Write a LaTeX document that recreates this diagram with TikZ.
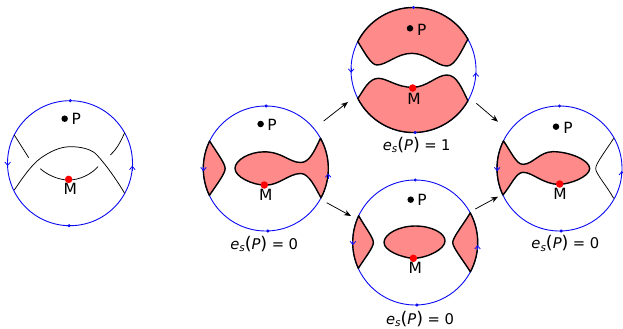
\documentclass[tikz,border=0pt]{standalone}
\usepackage{fontspec}
\setmainfont{DejaVu Sans}
\usetikzlibrary{arrows.meta}
\definecolor{salmon}{RGB}{255,138,138}
\definecolor{diskblue}{RGB}{10,10,245}
\newcommand{\capt}[1]{{\itshape e}\raisebox{-2.5bp}{\fontsize{10.5}{10.5}\selectfont\itshape s}{\fontsize{17.5}{17.5}\selectfont(}{\itshape P}{\fontsize{17.5}{17.5}\selectfont)}\hspace{4.5bp}=\hspace{4.5bp}#1}
\newcommand{\diskmarks}[5]{%
  % #1 name prefix, #2 top x, #3 bottom x, #4 left-arrow y, #5 right-arrow y
  \fill[diskblue] (#2,187.5) circle[radius=1.7bp];
  \fill[diskblue] (#3,-187.5) circle[radius=1.7bp];
  \draw[circarrow] (-187,#4+6) -- (-187,#4-8);
  \draw[circarrow] (187,#5-8) -- (187,#5+7);
}
\tikzset{
  disk/.style={circle,draw=diskblue,line width=0.9bp,minimum size=125bp,inner sep=0pt},
  circarrow/.style={draw=diskblue,line width=0.8bp,-{Straight Barb[length=3.2bp,width=5.6bp]}},
  region/.style={fill=salmon,draw=black,line width=1.4bp,line join=round},
  thinline/.style={draw=black,line width=0.75bp},
  pdot/.style={circle,fill=black,inner sep=0pt,minimum size=6.5bp},
  mdot/.style={circle,fill=red,inner sep=0pt,minimum size=7.5bp},
  lab/.style={inner sep=0pt,font=\fontsize{15.5}{15.5}\selectfont},
  capn/.style={inner sep=0pt,font=\fontsize{14.8}{14.8}\selectfont},
  flow/.style={draw=black,line width=0.75bp,-{Stealth[length=7bp,width=5.5bp]}},
  local/.style={x=0.33333bp,y=0.33333bp}
}
\begin{document}
\begin{tikzpicture}[x=1bp,y=1bp]
\useasboundingbox (0,0) rectangle (623,328);
\node[disk] (c1) at (70,164.8) {};
\node[disk] (c2) at (265.8,159.5) {};
\node[disk] (c3) at (413.5,258) {};
\node[disk] (c4) at (415.2,85.5) {};
\node[disk] (c5) at (559.5,159.5) {};

% disk 1
\begin{scope}[shift={(c1)},local]
\diskmarks{a}{1}{-3}{0}{-15}
\draw[thinline] (-167,84.5) .. controls (-150,58) and (-137,37) .. (-124,16.5);
\draw[thinline] (164,91.5) .. controls (150,60) and (138,40) .. (121,24.5);
\draw[thinline] (-167,-80.5) .. controls (-140,-40) and (-115,-5) .. (-89,14.5) .. controls (-60,35) and (-30,49.5) .. (1,49.5) .. controls (35,49.5) and (60,42) .. (76,29.5) .. controls (105,0) and (140,-50) .. (164,-90.5);
\draw[thinline] (-89,-16.5) .. controls (-65,-38) and (-30,-50.5) .. (-4,-50.5) .. controls (30,-50.5) and (65,-32) .. (84,-10.5);
\node[pdot] (p1) at (-16,133.5) {};
\node[lab] (pl1) at (19,131.5) {P};
\node[mdot] (m1) at (-4,-48.5) {};
\node[lab] (ml1) at (1,-78.5) {M};
\end{scope}

% disk 2
\begin{scope}[shift={(c2)},local]
\path[region] (154:187.5) arc[start angle=154,end angle=205.5,radius=62.5bp] .. controls (-145,-45) and (-122,-15) .. (-122,0) .. controls (-122,15) and (-145,45) .. (154:187.5) -- cycle;
\path[region] (-92.5,0) .. controls (-92.5,25) and (-50,50) .. (-5,50) .. controls (50,50) and (70,18) .. (105,18) .. controls (130,18) and (145,50) .. (29:187.5) arc[start angle=29,end angle=-28,radius=62.5bp] .. controls (150,-60) and (130,-15) .. (105,-15) .. controls (70,-15) and (40,-50) .. (0,-50) .. controls (-40,-50) and (-92.5,-25) .. cycle;
\diskmarks{b}{1}{6}{0}{-22}
\node[pdot] (p2) at (-15.5,133.5) {};
\node[lab] (pl2) at (19,130) {P};
\node[mdot] (m2) at (-4.5,-49.5) {};
\node[lab] (ml2) at (0,-78) {M};
\node[capn] (e2) at (-5,-226) {\capt{0}};
\end{scope}

% disk 3
\begin{scope}[shift={(c3)},local]
\path[region] (153:187.5) arc[start angle=153,end angle=29.5,radius=62.5bp] .. controls (145,60) and (125,12) .. (100,12) .. controls (70,12) and (40,50) .. (-5,50) .. controls (-50,50) and (-80,15) .. (-110,15) .. controls (-128,15) and (-150,58) .. (153:187.5) -- cycle;
\path[region] (207:187.5) .. controls (-150,-62) and (-135,-25) .. (-105,-25) .. controls (-80,-25) and (-50,-52) .. (-3,-52) .. controls (40,-52) and (70,-15) .. (100,-15) .. controls (130,-15) and (145,-55) .. (-29.5:187.5) arc[start angle=-29.5,end angle=-153,radius=62.5bp] -- cycle;
\diskmarks{c}{0}{5}{0}{-15}
\node[pdot] (p3) at (-10.5,125) {};
\node[lab] (pl3) at (25,120) {P};
\node[mdot] (m3) at (-2.5,-54) {};
\node[lab] (ml3) at (1.5,-87) {M};
\node[capn] (e3) at (9.5,-225) {\capt{1}};
\end{scope}

% disk 4
\begin{scope}[shift={(c4)},local]
\path[region] (154.7:187.5) arc[start angle=154.7,end angle=204.4,radius=62.5bp] .. controls (-150,-45) and (-125.5,-15) .. (-125.5,0) .. controls (-125.5,15) and (-150,45) .. (154.7:187.5) -- cycle;
\path[region] (28.3:187.5) arc[start angle=28.3,end angle=-28,radius=62.5bp] .. controls (145,-55) and (112.5,-15) .. (112.5,0) .. controls (112.5,15) and (145,55) .. (28.3:187.5) -- cycle;
\path[region] (-93.5,0) .. controls (-93.5,25) and (-50,49.5) .. (0,49.5) .. controls (50,49.5) and (89.5,28) .. (89.5,5) .. controls (89.5,-18) and (45,-44) .. (-5,-48) .. controls (-45,-44) and (-93.5,-24) .. cycle;
\diskmarks{d}{0}{5}{0}{-15}
\node[pdot] (p4) at (-13.5,128.5) {};
\node[lab] (pl4) at (20.5,127) {P};
\node[mdot] (m4) at (-5.5,-47.5) {};
\node[lab] (ml4) at (0,-76) {M};
\node[capn] (e4) at (14.5,-229.5) {\capt{0}};
\end{scope}

% disk 5
\begin{scope}[shift={(c5)},local]
\path[region] (153.8:187.5) .. controls (-145,50) and (-130,12.5) .. (-109.5,12.5) .. controls (-80,12.5) and (-60,50.5) .. (-19.5,50.5) .. controls (30,50.5) and (90.5,25) .. (90.5,0) .. controls (90.5,-25) and (30,-47.5) .. (-1.5,-47.5) .. controls (-50,-47.5) and (-80,-11.5) .. (-109.5,-11.5) .. controls (-130,-11.5) and (-145,-50) .. (205.1:187.5) arc[start angle=205.1,end angle=153.8,radius=62.5bp] -- cycle;
\draw[thinline] (162.5,90.5) .. controls (140,55) and (108.5,15) .. (108.5,0) .. controls (108.5,-15) and (140,-50) .. (162.5,-89.5);
\diskmarks{e}{0}{5}{0}{-15}
\node[pdot] (p5) at (-10.5,125.5) {};
\node[lab] (pl5) at (25.5,122.5) {P};
\node[mdot] (m5) at (0.5,-46.5) {};
\node[lab] (ml5) at (1.5,-76.5) {M};
\node[capn] (e5) at (17.5,-224.5) {\capt{0}};
\end{scope}

% connectors
\coordinate (a1s) at (323.7,207);
\coordinate (a1e) at (348,226);
\coordinate (a2s) at (326.7,125.3);
\coordinate (a2e) at (351,112);
\coordinate (a3s) at (476.3,224.7);
\coordinate (a3e) at (498,206.3);
\coordinate (a4s) at (475.3,119);
\coordinate (a4e) at (498,131.3);
\draw[flow] (a1s) -- (a1e);
\draw[flow] (a2s) -- (a2e);
\draw[flow] (a3s) -- (a3e);
\draw[flow] (a4s) -- (a4e);
\end{tikzpicture}
\end{document}
